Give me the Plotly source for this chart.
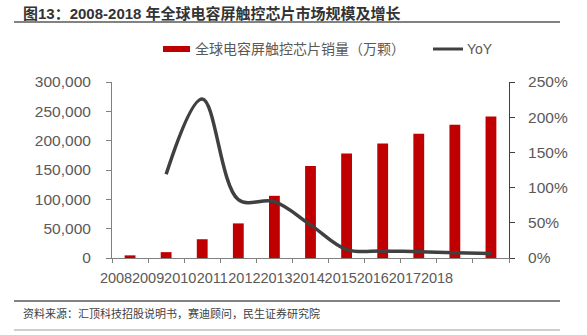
import plotly.graph_objects as go

years = ["2008", "2009", "2010", "2011", "2012", "2013", "2014", "2015", "2016", "2017", "2018"]
sales = [4500, 10000, 32000, 59000, 106000, 157000, 178000, 195000, 212000, 227000, 241000]
yoy = [None, 1.19, 2.26, 0.83, 0.80, 0.47, 0.12, 0.10, 0.09, 0.075, 0.065]

bar_name = "全球电容屏触控芯片销量（万颗）"
line_name = "YoY"
title_text = "图13：2008-2018 年全球电容屏触控芯片市场规模及增长"
source_text = "资料来源：汇顶科技招股说明书，赛迪顾问，民生证券研究院"

W, H = 587, 335
ML, MR, MT, MB = 112, 78, 82, 77
PW, PH = W - ML - MR, H - MT - MB

def px(x):
    return (x - ML) / PW

def py(y):
    return (H - MB - y) / PH

FONT = "Liberation Sans, Arial, Noto Sans CJK SC"
RED = "#C00000"
DARK = "#404040"
TXT = "#595959"

# The source chart packs its year labels tightly (about 32 px apart) starting
# left of the first bar; a label-only axis reproduces that placement.
LABEL_STEP = 32.1
LABEL_START = 116
lab_lo = -(LABEL_START - ML) / LABEL_STEP
lab_hi = lab_lo + PW / LABEL_STEP
label_idx = list(range(len(years)))

fig = go.Figure()
fig.add_trace(go.Bar(x=years, y=sales, name=bar_name, marker_color=RED,
                     marker_line_width=0, width=0.3, yaxis="y", showlegend=False))
fig.add_trace(go.Scatter(x=years, y=yoy, name=line_name, mode="lines",
                         line=dict(color=DARK, width=3.5, shape="spline", smoothing=1.0),
                         yaxis="y2", showlegend=False, connectgaps=False))
# invisible helper so the label axis is drawn
fig.add_trace(go.Scatter(x=label_idx, y=[0] * len(label_idx), xaxis="x2", yaxis="y",
                         mode="markers", marker=dict(opacity=0, size=1),
                         hoverinfo="skip", showlegend=False))

shapes = [
    dict(type="line", xref="paper", yref="paper", x0=px(14), x1=px(560), y0=py(22), y1=py(22),
         line=dict(color="#595959", width=1.5)),
    dict(type="line", xref="paper", yref="paper", x0=px(14), x1=px(560), y0=py(301), y1=py(301),
         line=dict(color="#595959", width=1.5)),
    dict(type="line", xref="paper", yref="paper", x0=px(14), x1=px(560), y0=py(330), y1=py(330),
         line=dict(color="#A0A0A0", width=1.2)),
    # legend glyphs
    dict(type="rect", xref="paper", yref="paper", x0=px(163), x1=px(190), y0=py(52), y1=py(46),
         fillcolor=RED, line=dict(width=0)),
    dict(type="line", xref="paper", yref="paper", x0=px(433), x1=px(463), y0=py(49), y1=py(49),
         line=dict(color=DARK, width=3)),
]

annotations = [
    dict(text="<b>" + title_text + "</b>", xref="paper", yref="paper", x=px(21), y=py(13),
         xanchor="left", yanchor="middle", showarrow=False,
         font=dict(family=FONT, size=15, color="#333333")),
    dict(text=bar_name, xref="paper", yref="paper", x=px(193), y=py(49),
         xanchor="left", yanchor="middle", showarrow=False,
         font=dict(family=FONT, size=14, color=TXT)),
    dict(text=line_name, xref="paper", yref="paper", x=px(465), y=py(49),
         xanchor="left", yanchor="middle", showarrow=False,
         font=dict(family=FONT, size=14, color=TXT)),
    dict(text=source_text, xref="paper", yref="paper", x=px(21), y=py(313),
         xanchor="left", yanchor="middle", showarrow=False,
         font=dict(family=FONT, size=11, color="#404040")),
]

fig.update_layout(
    width=W, height=H,
    margin=dict(l=ML, r=MR, t=MT, b=MB, pad=0),
    paper_bgcolor="white", plot_bgcolor="white",
    showlegend=False,
    font=dict(family=FONT, color=TXT),
    shapes=shapes,
    annotations=annotations,
    xaxis=dict(type="category", range=[-0.5, 10.5], showline=True, linecolor="#808080", linewidth=1,
               ticks="outside", tickson="boundaries", ticklen=4, tickcolor="#808080",
               showticklabels=False, showgrid=False, zeroline=False),
    xaxis2=dict(overlaying="x", anchor="y", side="bottom", type="linear",
                range=[lab_lo, lab_hi], tickmode="array", tickvals=label_idx,
                ticktext=years, tickangle=0, ticks="", showline=False, showgrid=False,
                zeroline=False, ticklabelstandoff=9,
                tickfont=dict(family=FONT, size=14.5, color=TXT)),
    yaxis=dict(range=[0, 300000], dtick=50000, tickformat=",", showline=True, linecolor="#808080",
               linewidth=1, ticks="outside", ticklen=5, tickcolor="#808080", showgrid=False,
               zeroline=False, ticklabelstandoff=12,
               tickfont=dict(family=FONT, size=15.5, color=TXT)),
    yaxis2=dict(range=[0, 2.5], dtick=0.5, tickformat=".0%", overlaying="y", side="right",
                showline=True, linecolor="#404040", linewidth=1, ticks="outside", ticklen=5,
                tickcolor="#404040", showgrid=False, zeroline=False, ticklabelstandoff=10,
                tickfont=dict(family=FONT, size=15.5, color=TXT)),
)

fig.write_html("out.html")
